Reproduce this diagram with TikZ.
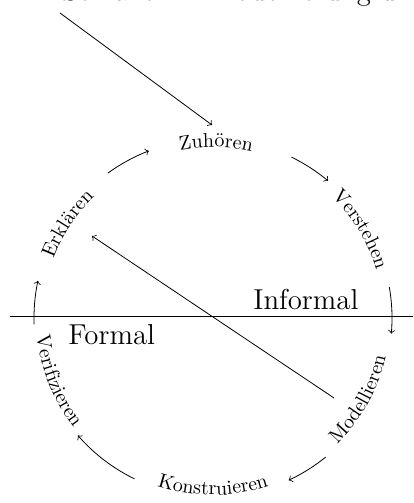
\documentclass[tikz,border=0pt]{standalone}
\usetikzlibrary{decorations.text}
\begin{document}
\begin{tikzpicture}[x=0.5pt,y=0.5pt,
  flow/.style={->,line width=0.4pt},
  lbl/.style={decorate,decoration={text along path,text align=center,text={#1}}}]
\useasboundingbox (0,0) rectangle (413,503);
\coordinate (C) at (213,185);
% heading (cut off at top)
\node[anchor=base west,inner sep=0pt,font=\Large] (head) at (62,502) {Semantik -- Modellierung und Welt};
% separator
\coordinate (L) at (10,186);
\coordinate (R) at (413,186);
\draw[line width=0.5pt] (L) -- (R);
\node[anchor=base west,inner sep=0pt,font=\Large] (inf) at (253,193) {Informal};
\node[anchor=base west,inner sep=0pt,font=\Large] (form) at (68,158) {Formal};
% labels along circle
\path[lbl=Zuhören] (C) ++(124:171) arc[start angle=124,end angle=54,radius=85.5pt];
\path[lbl=Verstehen] (C) ++(66:170) arc[start angle=66,end angle=-4,radius=85pt];
\path[lbl=Erklären] (C) ++(182:170) arc[start angle=182,end angle=112,radius=85pt];
\path[lbl=Modellieren] (C) ++(-64:177) arc[start angle=-64,end angle=6,radius=88.5pt];
\path[lbl=Konstruieren] (C) ++(-125:177) arc[start angle=-125,end angle=-55,radius=88.5pt];
\path[lbl=Verifizieren] (C) ++(167:177) arc[start angle=167,end angle=237,radius=88.5pt];
% cycle arrows
\draw[flow] (C) ++(64:179) arc[start angle=64,end angle=50,radius=89.5pt];
\draw[flow] (C) ++(10:179) arc[start angle=10,end angle=-5,radius=89.5pt];
\draw[flow] (C) ++(-51:179) arc[start angle=-51,end angle=-65,radius=89.5pt];
\draw[flow] (C) ++(-116:179) arc[start angle=-116,end angle=-139,radius=89.5pt];
\draw[flow] (C) ++(182:179) arc[start angle=182,end angle=168,radius=89.5pt];
\draw[flow] (C) ++(126:179) arc[start angle=126,end angle=111,radius=89.5pt];
% long arrows
\coordinate (in) at (60,490);
\coordinate (inend) at (212,378);
\draw[flow] (in) -- (inend);
\coordinate (back) at (334,105);
\coordinate (backend) at (92,267);
\draw[flow] (back) -- (backend);
\end{tikzpicture}
\end{document}
